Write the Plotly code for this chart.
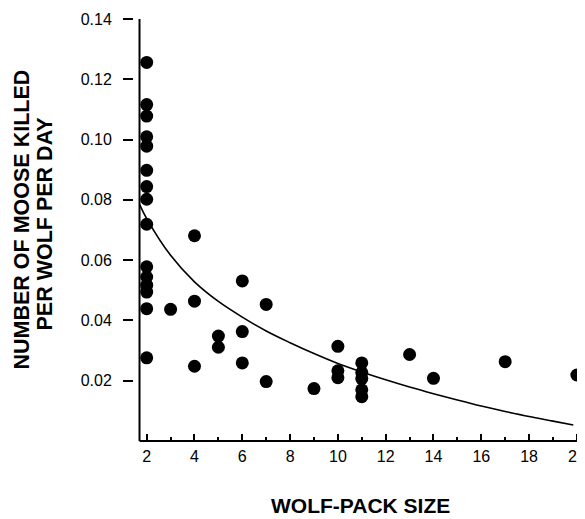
import plotly.graph_objects as go

# Observed points (wolf-pack size, moose killed per wolf per day)
pack_size = [2, 2, 2, 2, 2, 2, 2, 2, 2, 2, 2, 2, 2, 2, 2,
             3,
             4, 4, 4,
             5, 5,
             6, 6, 6,
             7, 7,
             9,
             10, 10, 10,
             11, 11, 11, 11, 11,
             13, 14, 17, 20]
kill_rate = [0.1256, 0.1116, 0.1078, 0.1009, 0.0978, 0.0898, 0.0844, 0.0802,
             0.0719, 0.0578, 0.0544, 0.0517, 0.0494, 0.0439, 0.0276,
             0.0437,
             0.0681, 0.0464, 0.0248,
             0.0348, 0.0311,
             0.0531, 0.0363, 0.0259,
             0.0453, 0.0197,
             0.0174,
             0.0314, 0.0233, 0.0210,
             0.0259, 0.0227, 0.0207, 0.0170, 0.0147,
             0.0287, 0.0208, 0.0263, 0.0219]

# Fitted curve
fit_x = [1.70, 2, 3, 4, 5, 6, 7, 8, 9, 10, 11, 12, 13, 14, 15, 16, 17, 18, 19, 19.85]
fit_y = [0.0785, 0.0738, 0.0616, 0.0528, 0.0463, 0.0411, 0.0365, 0.0326, 0.0290,
         0.0257, 0.0229, 0.0203, 0.0179, 0.0157, 0.0136, 0.0116, 0.0098, 0.0081,
         0.0066, 0.0053]

x_ticks = [2, 4, 6, 8, 10, 12, 14, 16, 18, 20]
y_ticks = [0.02, 0.04, 0.06, 0.08, 0.10, 0.12, 0.14]
y_tick_text = ["0.02", "0.04", "0.06", "0.08", "0.10", "0.12", "0.14"]

FONT = "Liberation Sans, Arial, Helvetica, sans-serif"
AXIS_X = 1.70  # where the vertical axis line sits, in data units

# The page body has an 8px default margin, so the figure is 8px smaller
W, H = 577, 511
L, T, B = 126, 11, 78
PW, PH = W - L, H - T - B


def px_x(xp):
    return (xp - L) / PW


def px_y(yp):
    return (H - B - yp) / PH


fig = go.Figure()
fig.add_trace(go.Scatter(
    x=fit_x, y=fit_y, mode="lines",
    line=dict(color="black", width=1.6, shape="spline", smoothing=1.0),
    hoverinfo="skip", showlegend=False))
fig.add_trace(go.Scatter(
    x=pack_size, y=kill_rate, mode="markers",
    marker=dict(color="black", size=13, line=dict(width=0)),
    cliponaxis=False, showlegend=False))

# axis lines
fig.add_shape(type="line", xref="x", yref="paper", x0=AXIS_X, x1=AXIS_X, y0=0, y1=1,
              line=dict(color="black", width=2))
fig.add_shape(type="line", xref="x", yref="paper", x0=AXIS_X, x1=20.34, y0=0, y1=0,
              line=dict(color="black", width=2.2))

fig.update_layout(
    width=W, height=H,
    margin=dict(l=L, r=0, t=T, b=B, pad=0),
    paper_bgcolor="white", plot_bgcolor="white",
    font=dict(family=FONT, color="black"),
    xaxis=dict(range=[1.469, 20.34], tickvals=x_ticks, ticktext=[str(v) for v in x_ticks],
               ticks="inside", ticklen=7, tickwidth=2, tickcolor="black",
               minor=dict(ticks="inside", ticklen=4, tickwidth=1.5, tickcolor="black",
                          dtick=1, tick0=1, showgrid=False),
               showline=False, showgrid=False, zeroline=False,
               ticklabeloverflow="allow",
               tickfont=dict(size=16, family=FONT), ticklabelstandoff=4),
    yaxis=dict(range=[0, 0.14], tickvals=y_ticks, ticktext=y_tick_text,
               ticks="outside", ticklen=10, tickwidth=2, tickcolor="black",
               showline=False, showgrid=False, zeroline=False,
               tickfont=dict(size=16, family=FONT), ticklabelstandoff=8),
    annotations=[
        dict(text="<b>NUMBER OF MOOSE KILLED</b>",
             xref="paper", yref="paper", x=px_x(13.5), y=px_y(212),
             xanchor="center", yanchor="middle", textangle=-90, showarrow=False,
             font=dict(size=21.5, family=FONT, color="black")),
        dict(text="<b>PER WOLF PER DAY</b>",
             xref="paper", yref="paper", x=px_x(36.5), y=px_y(216),
             xanchor="center", yanchor="middle", textangle=-90, showarrow=False,
             font=dict(size=21.5, family=FONT, color="black")),
        dict(text="<b>WOLF-PACK SIZE</b>",
             xref="paper", yref="paper", x=px_x(352), y=px_y(497),
             xanchor="center", yanchor="middle", showarrow=False, borderpad=0,
             font=dict(size=21, family=FONT, color="black")),
    ],
)

fig.write_html("out.html")
